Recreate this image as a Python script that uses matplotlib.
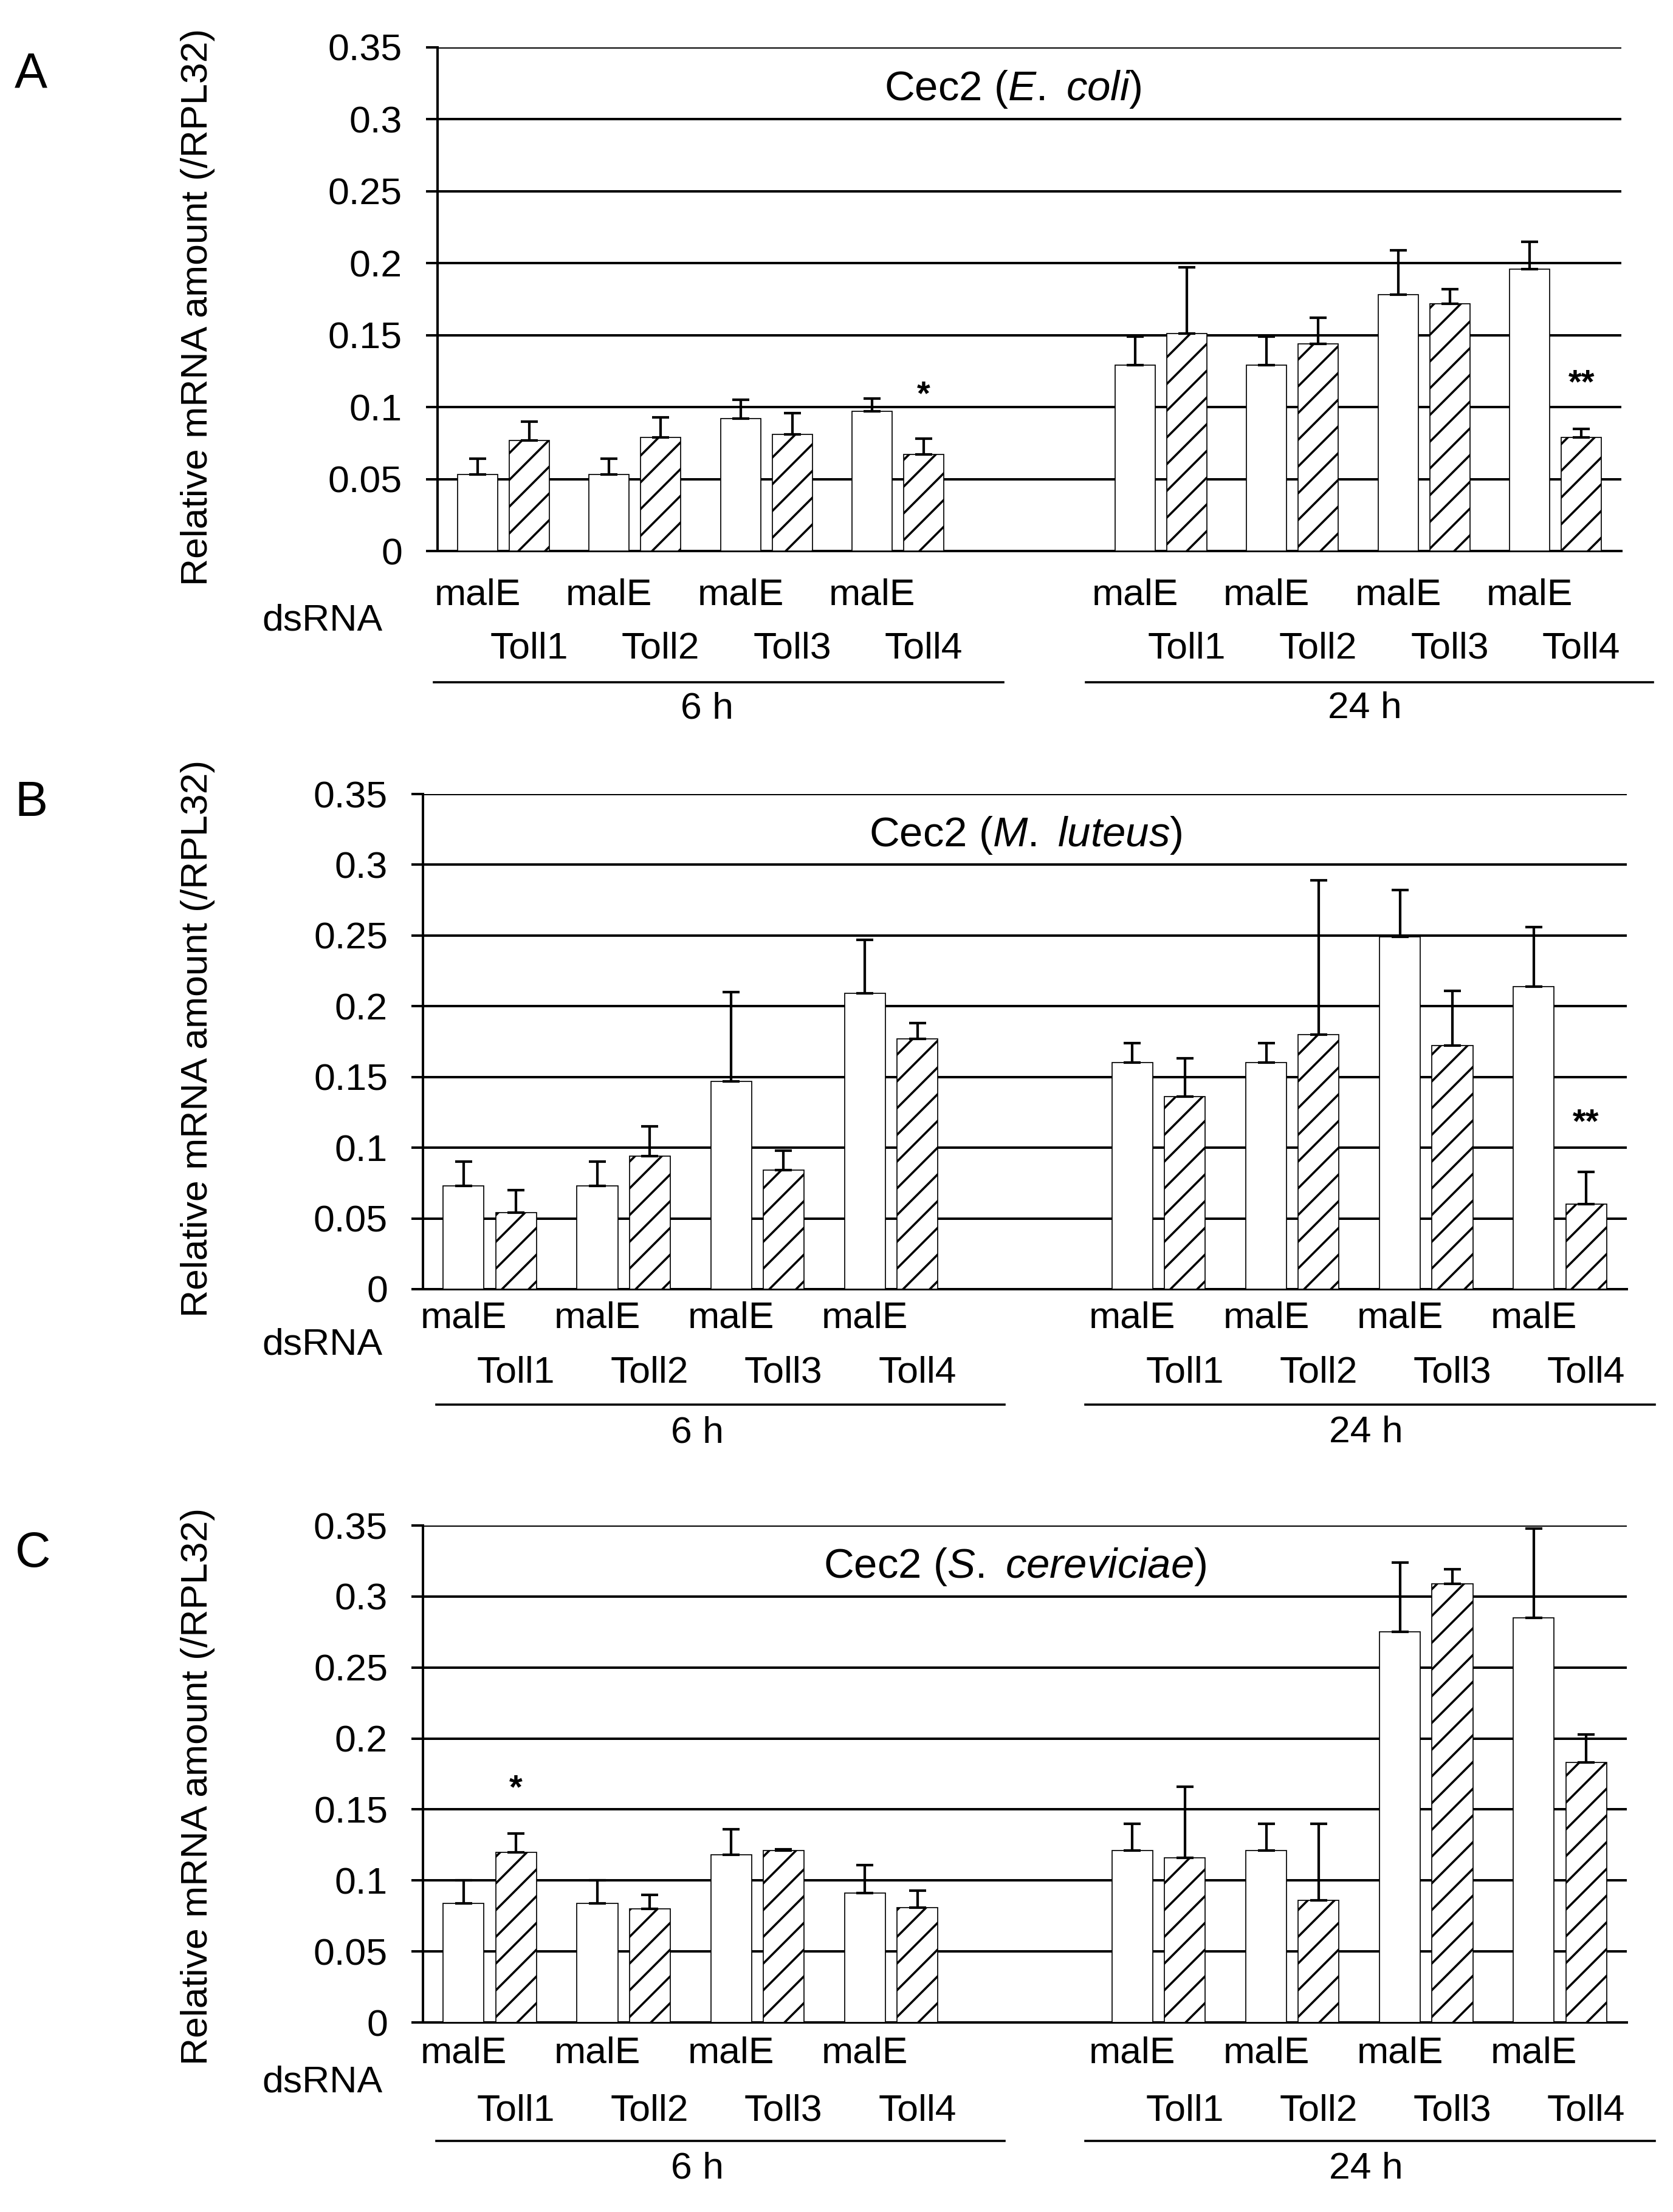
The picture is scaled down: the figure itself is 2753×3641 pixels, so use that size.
import numpy as np
import matplotlib.pyplot as plt
from matplotlib.transforms import blended_transform_factory

DPI = 132  # chosen so the '/' hatch spacing matches the reference


def P(px):
    # pixel size -> points at the chosen dpi
    return px * 72 / DPI


plt.rcParams['font.family'] = ['Liberation Sans', 'DejaVu Sans']
plt.rcParams['mathtext.fontset'] = 'custom'
plt.rcParams['mathtext.rm'] = 'Liberation Sans'
plt.rcParams['mathtext.it'] = 'Liberation Sans:italic'
plt.rcParams['hatch.linewidth'] = P(3.6)

# data (6 h: 4 pairs, 24 h: 4 pairs)
groups = ['Toll1', 'Toll2', 'Toll3', 'Toll4']
times = ['6 h', '24 h']

ecoli_malE = [0.053, 0.053, 0.092, 0.097, 0.129, 0.129, 0.178, 0.196]
ecoli_malE_err = [0.011, 0.011, 0.013, 0.009, 0.020, 0.020, 0.031, 0.019]
ecoli_toll = [0.077, 0.079, 0.081, 0.067, 0.151, 0.144, 0.172, 0.079]
ecoli_toll_err = [0.013, 0.014, 0.015, 0.011, 0.046, 0.018, 0.010, 0.006]

mlut_malE = [0.073, 0.073, 0.147, 0.209, 0.160, 0.160, 0.249, 0.214]
mlut_malE_err = [0.017, 0.017, 0.063, 0.038, 0.014, 0.014, 0.033, 0.042]
mlut_toll = [0.054, 0.094, 0.084, 0.177, 0.136, 0.180, 0.172, 0.060]
mlut_toll_err = [0.016, 0.021, 0.014, 0.011, 0.027, 0.109, 0.039, 0.023]

scer_malE = [0.084, 0.084, 0.118, 0.091, 0.121, 0.121, 0.275, 0.285]
scer_malE_err = [0.016, 0.016, 0.018, 0.020, 0.019, 0.019, 0.049, 0.063]
scer_toll = [0.120, 0.080, 0.121, 0.081, 0.116, 0.086, 0.309, 0.183]
scer_toll_err = [0.013, 0.010, 0.001, 0.012, 0.050, 0.054, 0.010, 0.020]

W, H = 2753, 3641
fig = plt.figure(figsize=(W / DPI, H / DPI), dpi=DPI)

pos = [0, 1, 2, 3, 5, 6, 7, 8]
fs = P(62.5)
dx = 0.196
bw = 0.305


def panel(box, letter, title, title_x, malE, malE_err, toll, toll_err, stars, offs, lines, ylab_y):
    l, t, r, b = box
    ax = fig.add_axes([l / W, 1 - b / H, (r - l) / W, (b - t) / H])
    hpx = b - t
    x = np.array(pos)
    ax.bar(x - dx, malE, bw, color='white', edgecolor='black', linewidth=P(1.7), zorder=3)
    ax.bar(x + dx, toll, bw, color='white', edgecolor='black', linewidth=P(1.7),
           hatch='/', zorder=3)
    ax.errorbar(x - dx, malE, yerr=[np.zeros(8), malE_err], fmt='none', ecolor='black',
                elinewidth=P(4.2), capsize=P(14), capthick=P(4.2), zorder=4)
    ax.errorbar(x + dx, toll, yerr=[np.zeros(8), toll_err], fmt='none', ecolor='black',
                elinewidth=P(4.2), capsize=P(14), capthick=P(4.2), zorder=4)
    ax.set_xlim(-0.5, 8.5)
    ax.set_ylim(0, 0.35)
    ax.set_yticks([0, 0.05, 0.1, 0.15, 0.2, 0.25, 0.3, 0.35])
    ax.set_yticklabels(['0', '0.05', '0.1', '0.15', '0.2', '0.25', '0.3', '0.35'])
    ax.yaxis.grid(True, color='black', linewidth=P(4), zorder=0)
    ax.set_axisbelow(True)
    ax.set_xticks([])
    ax.tick_params(axis='y', length=P(19), width=P(4), pad=P(39), labelsize=fs)
    for s in ['top', 'right']:
        ax.spines[s].set_visible(False)
    ax.spines['left'].set_linewidth(P(4))
    ax.spines['bottom'].set_linewidth(P(4))
    ax.text(title_x, 0.321, title, fontsize=P(69), ha='center', va='center',
            transform=blended_transform_factory(fig.transFigure, ax.transData))

    tr = blended_transform_factory(ax.transData, ax.transAxes)
    for i, p in enumerate(pos):
        ax.text(p - dx, -offs[0] / hpx, 'malE', fontsize=fs, ha='center', va='center', transform=tr)
        ax.text(p + dx, -offs[1] / hpx, groups[i % 4], fontsize=fs, ha='center', va='center', transform=tr)
    for (x0, x1), xc, lab in zip(lines, [1.55, 6.55], times):
        ax.plot([x0, x1], [-offs[2] / hpx] * 2, color='black', lw=P(3.6), transform=tr, clip_on=False)
        ax.text(xc, -offs[3] / hpx, lab, fontsize=fs, ha='center', va='center', transform=tr)

    for xs, ys, s in stars:
        ax.text(pos[xs] + dx, ys, s, fontsize=P(56), fontweight='bold', ha='center', va='center')

    fig.text(531 / W, 1 - (b + offs[4]) / H, 'dsRNA', fontsize=fs, ha='center', va='center')
    fig.text(326 / W, 1 - ylab_y / H, 'Relative mRNA amount (/RPL32)', fontsize=fs,
             rotation=90, ha='center', va='center')
    fig.text(offs[5][0] / W, 1 - offs[5][1] / H, letter, fontsize=P(81), ha='center', va='center')
    return ax


panel((720, 78, 2668, 907), 'A', r'Cec2 ($\it{E.\ coli}$)', 1667 / W,
      ecoli_malE, ecoli_malE_err, ecoli_toll, ecoli_toll_err,
      [(3, 0.108, '*'), (7, 0.116, '**')], (73, 161, 216, 260, 115, (51, 122)),
      [(-0.53, 3.80), (4.43, 8.74)], 505)
panel((696, 1307, 2677, 2122), 'B', r'Cec2 ($\it{M.\ luteus}$)', 1688 / W,
      mlut_malE, mlut_malE_err, mlut_toll, mlut_toll_err,
      [(7, 0.117, '**')], (48, 138, 190, 237, 92, (51, 1322)),
      [(-0.40, 3.85), (4.45, 8.71)], 1709)
panel((696, 2511, 2677, 3329), 'C', r'Cec2 ($\it{S.\ cereviciae}$)', 1670 / W,
      scer_malE, scer_malE_err, scer_toll, scer_toll_err,
      [(0, 0.164, '*')], (51, 146, 195, 241, 99, (54, 2558)),
      [(-0.40, 3.85), (4.45, 8.71)], 2940)

fig.savefig('out.png', dpi=DPI)
